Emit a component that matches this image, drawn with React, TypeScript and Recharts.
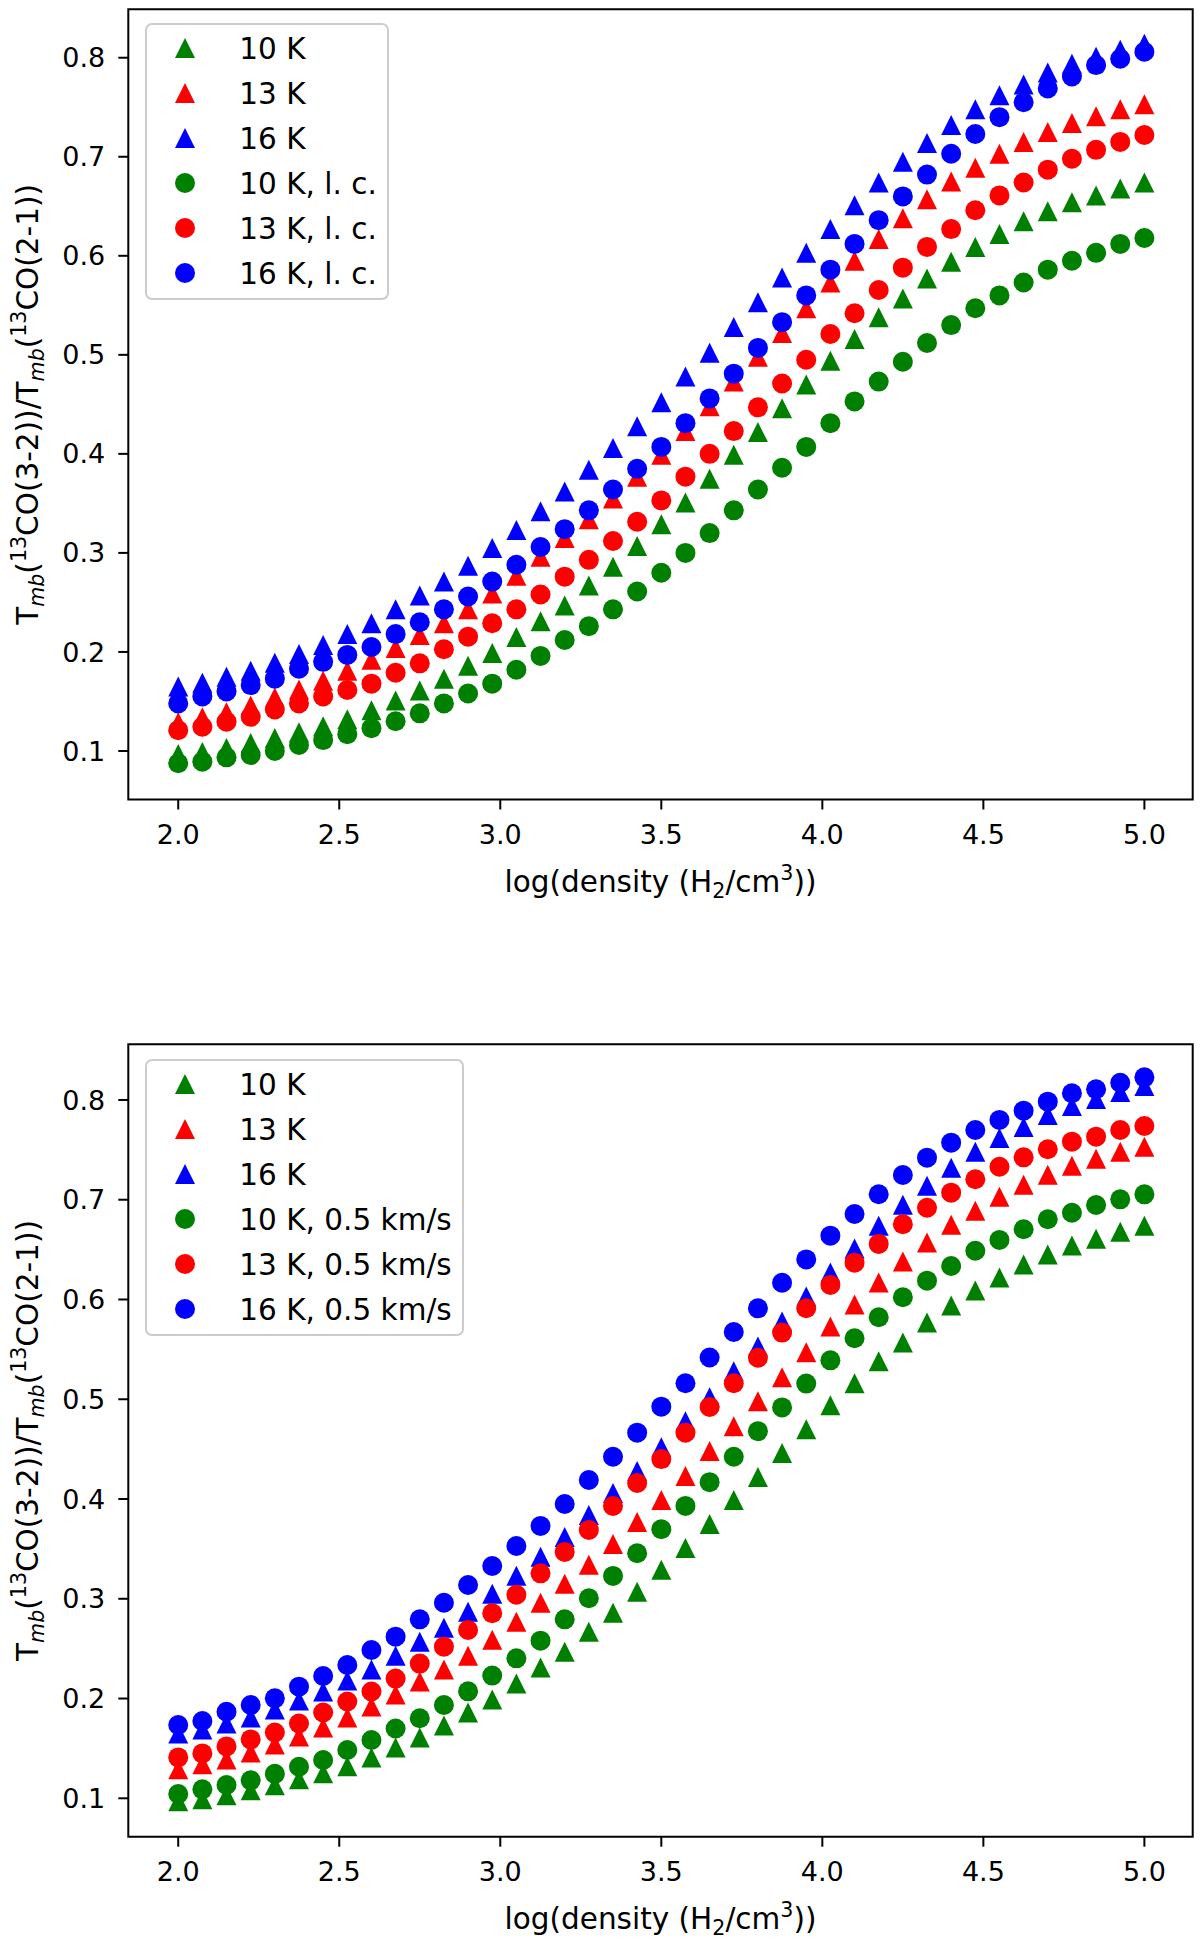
import React from 'react';
import { ScatterChart, Scatter, XAxis, YAxis, ReferenceArea, Legend } from 'recharts';

// log(density) grid
const logDensity = [
  2.0, 2.075, 2.15, 2.225, 2.3, 2.375, 2.45, 2.525, 2.6, 2.675, 2.75, 2.825, 2.9, 2.975,
  3.05, 3.125, 3.2, 3.275, 3.35, 3.425, 3.5, 3.575, 3.65, 3.725, 3.8, 3.875, 3.95, 4.025,
  4.1, 4.175, 4.25, 4.325, 4.4, 4.475, 4.55, 4.625, 4.7, 4.775, 4.85, 4.925, 5.0,
];

// triangles (same models in both panels)
const tri10K = [
  0.097, 0.099, 0.103, 0.108, 0.113, 0.119, 0.125, 0.132, 0.141, 0.151, 0.161, 0.173, 0.186, 0.199,
  0.215, 0.231, 0.247, 0.267, 0.286, 0.307, 0.329, 0.351, 0.375, 0.399, 0.422, 0.446, 0.47, 0.494,
  0.516, 0.538, 0.557, 0.577, 0.594, 0.609, 0.622, 0.635, 0.645, 0.654, 0.661, 0.668, 0.674,
];
const tri13K = [
  0.129, 0.134, 0.139, 0.146, 0.154, 0.162, 0.171, 0.181, 0.192, 0.204, 0.217, 0.229, 0.243, 0.259,
  0.277, 0.296, 0.315, 0.334, 0.355, 0.377, 0.399, 0.423, 0.448, 0.473, 0.498, 0.522, 0.547, 0.573,
  0.595, 0.617, 0.638, 0.657, 0.675, 0.689, 0.703, 0.715, 0.725, 0.734, 0.741, 0.748, 0.753,
];
const tri16K = [
  0.165, 0.169, 0.175, 0.181, 0.189, 0.198, 0.207, 0.218, 0.229, 0.243, 0.257, 0.271, 0.287, 0.305,
  0.323, 0.342, 0.362, 0.384, 0.406, 0.428, 0.452, 0.478, 0.502, 0.528, 0.553, 0.578, 0.603, 0.627,
  0.651, 0.674, 0.695, 0.714, 0.732, 0.748, 0.762, 0.773, 0.785, 0.794, 0.801, 0.808, 0.814,
];

// top panel circles: "l. c."
const lc10K = [
  0.0876, 0.0892, 0.0936, 0.096, 0.1, 0.106, 0.111, 0.117, 0.123, 0.13, 0.138, 0.148, 0.158, 0.168,
  0.182, 0.196, 0.212, 0.226, 0.243, 0.261, 0.28, 0.3, 0.32, 0.343, 0.364, 0.386, 0.407, 0.431,
  0.453, 0.473, 0.493, 0.512, 0.53, 0.547, 0.56, 0.573, 0.586, 0.595, 0.603, 0.612, 0.618,
];
const lc13K = [
  0.121, 0.1245, 0.1296, 0.1346, 0.142, 0.148, 0.155, 0.1616, 0.168, 0.179, 0.1885, 0.2027, 0.2154, 0.229,
  0.243, 0.258, 0.276, 0.293, 0.312, 0.3315, 0.353, 0.377, 0.4, 0.423, 0.447, 0.471, 0.495, 0.521,
  0.542, 0.5655, 0.588, 0.609, 0.627, 0.646, 0.661, 0.674, 0.687, 0.698, 0.707, 0.715, 0.722,
];
const lc16K = [
  0.148, 0.155, 0.16, 0.1665, 0.173, 0.183, 0.19, 0.197, 0.205, 0.218, 0.23, 0.243, 0.256, 0.271,
  0.288, 0.306, 0.324, 0.343, 0.364, 0.385, 0.407, 0.431, 0.456, 0.481, 0.507, 0.533, 0.56, 0.586,
  0.612, 0.636, 0.66, 0.682, 0.703, 0.723, 0.74, 0.755, 0.769, 0.781, 0.7926, 0.799, 0.806,
];

// bottom panel circles: "0.5 km/s"
const v05_10K = [
  0.1043, 0.109, 0.1133, 0.118, 0.1245, 0.1316, 0.1384, 0.1484, 0.1584, 0.17, 0.1802, 0.1935, 0.2072, 0.223,
  0.2403, 0.258, 0.2794, 0.3005, 0.3229, 0.3456, 0.3697, 0.3931, 0.4169, 0.4424, 0.468, 0.4918, 0.5157, 0.539,
  0.5611, 0.5822, 0.6022, 0.6189, 0.6336, 0.6489, 0.6597, 0.6704, 0.6804, 0.687, 0.6947, 0.7004, 0.7054,
];
const v05_13K = [
  0.141, 0.145, 0.152, 0.159, 0.166, 0.175, 0.186, 0.197, 0.207, 0.22, 0.235, 0.252, 0.2687, 0.2855,
  0.304, 0.3255, 0.347, 0.369, 0.393, 0.416, 0.44, 0.4665, 0.4923, 0.516, 0.5416, 0.5668, 0.5912, 0.6146,
  0.6369, 0.6557, 0.6754, 0.692, 0.7071, 0.7205, 0.7331, 0.7425, 0.7506, 0.7582, 0.7632, 0.7699, 0.7739,
];
const v05_16K = [
  0.1735, 0.1775, 0.1868, 0.1935, 0.2002, 0.2119, 0.2226, 0.2336, 0.2487, 0.262, 0.2794, 0.296, 0.3138, 0.3329,
  0.3529, 0.373, 0.395, 0.4191, 0.4424, 0.4665, 0.4926, 0.516, 0.5419, 0.5674, 0.5911, 0.6168, 0.6402, 0.664,
  0.6857, 0.7055, 0.7248, 0.7422, 0.7572, 0.7699, 0.78, 0.7893, 0.7983, 0.8067, 0.8107, 0.8173, 0.8227,
];

const xTicks = [2.0, 2.5, 3.0, 3.5, 4.0, 4.5, 5.0];
const yTicks = [0.1, 0.2, 0.3, 0.4, 0.5, 0.6, 0.7, 0.8];
const topLabels = ['10 K', '13 K', '16 K', '10 K, l. c.', '13 K, l. c.', '16 K, l. c.'];
const bottomLabels = ['10 K', '13 K', '16 K', '10 K, 0.5 km/s', '13 K, 0.5 km/s', '16 K, 0.5 km/s'];

const GREEN = '#008000';
const RED = '#ff0000';
const BLUE = '#0000ff';
const COLORS = [GREEN, RED, BLUE];
const FONT = "'DejaVu Sans', sans-serif";
const X_MIN = 1.845;
const X_MAX = 5.15;
const R = 10;

const pts = (ys: number[]) => logDensity.map((x, i) => ({ x, y: ys[i] }));

const Tri = (p: any) => {
  const { cx, cy, fill } = p;
  if (cx == null || cy == null) return null;
  return <path d={`M${cx},${cy - R}L${cx - R},${cy + R}L${cx + R},${cy + R}Z`} fill={fill} />;
};
const Dot = (p: any) => {
  const { cx, cy, fill } = p;
  if (cx == null || cy == null) return null;
  return <circle cx={cx} cy={cy} r={R} fill={fill} />;
};

const LegendBox = ({ labels, width, height }: { labels: string[]; width: number; height: number }) => (
  <svg width={width} height={height} style={{ display: 'block', overflow: 'visible' }}>
    <rect x={1} y={1} width={width - 2} height={height - 2} rx={6} ry={6} fill="rgba(255,255,255,0.8)" stroke="#cccccc" strokeWidth={2} />
    {labels.map((lab, k) => {
      const cy = 25 + k * 45;
      const cx = 40;
      const color = COLORS[k % 3];
      return (
        <g key={k}>
          {k < 3 ? (
            <path d={`M${cx},${cy - R}L${cx - R},${cy + R}L${cx + R},${cy + R}Z`} fill={color} />
          ) : (
            <circle cx={cx} cy={cy} r={R} fill={color} />
          )}
          <text x={94.3} y={cy + 10.6} fontSize={29.5} fontFamily={FONT} fill="#000">
            {lab}
          </text>
        </g>
      );
    })}
  </svg>
);

const XLabel = (props: any) => {
  const vb = props.viewBox || {};
  const cx = vb.x + vb.width / 2;
  const y = vb.y + 92.6;
  return (
    <text x={cx} y={y} textAnchor="middle" fontSize={29.5} fontFamily={FONT} fill="#000">
      log(density (H<tspan fontSize={20.6} dy={6}>2</tspan>
      <tspan dy={-6}>/cm</tspan>
      <tspan fontSize={20.6} dy={-12}>3</tspan>
      <tspan dy={12}>))</tspan>
    </text>
  );
};

const YLabel = (props: any) => {
  const vb = props.viewBox || {};
  const cy = vb.y + vb.height / 2;
  return (
    <text transform={`translate(37.5, ${cy}) rotate(-90)`} x={0} y={0} textAnchor="middle" fontSize={29.5} fontFamily={FONT} fill="#000">
      T<tspan fontSize={20.6} fontStyle="italic" dy={6}>mb</tspan>
      <tspan dy={-6}>(</tspan>
      <tspan fontSize={20.6} dy={-12}>13</tspan>
      <tspan dy={12}>CO(3-2))/T</tspan>
      <tspan fontSize={20.6} fontStyle="italic" dy={6}>mb</tspan>
      <tspan dy={-6}>(</tspan>
      <tspan fontSize={20.6} dy={-12}>13</tspan>
      <tspan dy={12}>CO(2-1))</tspan>
    </text>
  );
};

type PanelProps = {
  top: number;
  height: number;
  plotTop: number;
  plotBottom: number;
  yMin: number;
  yMax: number;
  circles: number[][];
  labels: string[];
  legendTop: number;
  legendWidth: number;
};

const Panel = ({ top, height, plotTop, plotBottom, yMin, yMax, circles, labels, legendTop, legendWidth }: PanelProps) => {
  const XAXIS_H = 100;
  const marginBottom = height - plotBottom - XAXIS_H;
  const tickStyle = { fill: '#000', fontSize: 27, fontFamily: FONT };
  const tickLine = { stroke: '#000', strokeWidth: 2 };
  return (
    <div style={{ position: 'absolute', left: 0, top, width: 1200, height }}>
      <ScatterChart width={1200} height={height} margin={{ top: plotTop, right: 7.3, bottom: marginBottom, left: 28.3 }}>
        <XAxis
          type="number"
          dataKey="x"
          domain={[X_MIN, X_MAX]}
          allowDataOverflow
          ticks={xTicks}
          interval={0}
          tickFormatter={(v: number) => v.toFixed(1)}
          axisLine={false}
          tickLine={tickLine}
          tickSize={10}
          tickMargin={15}
          height={XAXIS_H}
          tick={tickStyle}
          label={{ content: XLabel }}
        />
        <YAxis
          type="number"
          dataKey="y"
          domain={[yMin, yMax]}
          allowDataOverflow
          ticks={yTicks}
          interval={0}
          tickFormatter={(v: number) => v.toFixed(1)}
          axisLine={false}
          tickLine={tickLine}
          tickSize={10}
          tickMargin={13}
          width={100}
          tick={tickStyle}
          label={{ content: YLabel }}
        />
        <Scatter name={labels[0]} data={pts(tri10K)} fill={GREEN} shape={Tri} isAnimationActive={false} />
        <Scatter name={labels[1]} data={pts(tri13K)} fill={RED} shape={Tri} isAnimationActive={false} />
        <Scatter name={labels[2]} data={pts(tri16K)} fill={BLUE} shape={Tri} isAnimationActive={false} />
        <Scatter name={labels[3]} data={pts(circles[0])} fill={GREEN} shape={Dot} isAnimationActive={false} />
        <Scatter name={labels[4]} data={pts(circles[1])} fill={RED} shape={Dot} isAnimationActive={false} />
        <Scatter name={labels[5]} data={pts(circles[2])} fill={BLUE} shape={Dot} isAnimationActive={false} />
        <ReferenceArea x1={X_MIN} x2={X_MAX} y1={yMin} y2={yMax} fill="none" fillOpacity={0} stroke="#000" strokeWidth={2} strokeOpacity={1} ifOverflow="visible" />
        <Legend
          layout="horizontal"
          verticalAlign="middle"
          align="center"
          wrapperStyle={{ position: 'absolute', left: 144.5, top: legendTop, width: legendWidth, height: 277, margin: 0, padding: 0 }}
          content={() => <LegendBox labels={labels} width={legendWidth} height={277} />}
        />
      </ScatterChart>
    </div>
  );
};

export default function App() {
  return (
    <div style={{ position: 'absolute', left: 0, top: 0, width: 1200, height: 1949, background: '#fff' }}>
      <Panel
        top={0}
        height={960}
        plotTop={9.3}
        plotBottom={799.5}
        yMin={0.051}
        yMax={0.8489}
        circles={[lc10K, lc13K, lc16K]}
        labels={topLabels}
        legendTop={23.3}
        legendWidth={244}
      />
      <Panel
        top={1000}
        height={949}
        plotTop={44.3}
        plotBottom={836.7}
        yMin={0.0615}
        yMax={0.8558}
        circles={[v05_10K, v05_13K, v05_16K]}
        labels={bottomLabels}
        legendTop={58.8}
        legendWidth={319}
      />
    </div>
  );
}
